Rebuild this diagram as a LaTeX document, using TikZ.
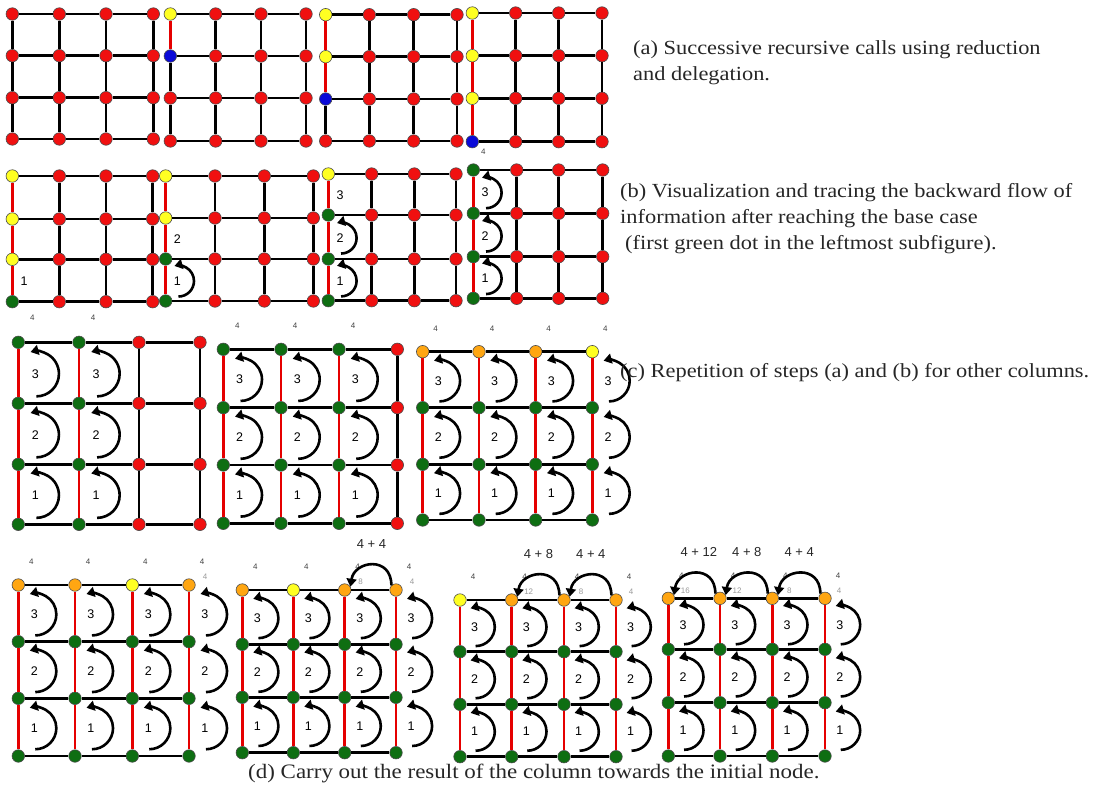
\documentclass[tikz,border=0pt]{standalone}
\usepackage{fontspec}
\setmainfont{Liberation Serif}[FakeStretch=1.12]
\setsansfont{Liberation Sans}
\usepackage{tikz}
\usetikzlibrary{arrows.meta,calc}

\definecolor{rd}{HTML}{F01010}
\definecolor{yl}{HTML}{FFFF22}
\definecolor{bl}{HTML}{0A0AD8}
\definecolor{gn}{HTML}{0E6E12}
\definecolor{og}{HTML}{FFA612}

\tikzset{
  knot/.style={circle,draw=black!70,line width=0.6pt,inner sep=0pt,minimum size=12.5pt},
  wire/.style={line width=2.8pt,black},
  hot/.style={line width=2.6pt,red!90!black},
  ret/.style={line width=2.6pt,-{Triangle[length=8pt,width=10pt]}},
  digit/.style={font=\fontsize{12.5}{13}\sffamily,inner sep=0pt},
  weight/.style={font=\fontsize{8}{9}\sffamily,text=black!75,inner sep=0pt},
  acc/.style={font=\fontsize{8}{9}\sffamily,text=black!40,inner sep=0pt},
  total/.style={font=\fontsize{13}{14}\sffamily,text=black!85,anchor=west,inner sep=0pt},
  note/.style={font=\fontsize{20}{26}\selectfont,text=black!85,align=left,anchor=west,inner sep=0pt},
}

% name, column x's, row y's, colours (column by column, top down), red segments per column
\newcommand\grid[5]{%
  \foreach \fc [count=\k from 0] in {#4} {
    \pgfmathtruncatemacro\cx{div(\k,4)}
    \pgfmathtruncatemacro\ry{mod(\k,4)}
    \pgfmathsetmacro\px{{#2}[\cx]}
    \pgfmathsetmacro\py{{#3}[\ry]}
    \node[knot,fill=\fc] (#1-\cx-\ry) at (\px,\py) {};
  }
  \foreach \ry in {0,...,3} {
    \foreach \cx [evaluate=\cx as \nx using int(\cx+1)] in {0,1,2} {
      \draw[wire] (#1-\cx-\ry) -- (#1-\nx-\ry);
    }
  }
  \foreach \nr [count=\cx from 0] in {#5} {
    \foreach \ry [evaluate=\ry as \ny using int(\ry+1)] in {0,1,2} {
      \ifnum\ry<\nr\relax \draw[hot] (#1-\cx-\ry) -- (#1-\cx-\ny);
      \else \draw[wire] (#1-\cx-\ry) -- (#1-\cx-\ny); \fi
    }
  }
}
% grid, column, upper row, label, cell height
\newcommand\tally[5]{%
  \pgfmathtruncatemacro\lo{#3+1}
  \node[digit] (#1-k-#2-#3) at ($(#1-#2-#3)!0.5!(#1-#2-\lo)+(0.28*#5,1)$) {#4};
}
\newcommand\back[5]{%
  \tally{#1}{#2}{#3}{#4}{#5}
  \draw[ret] ([shift={(1,0.37*#5)}]#1-k-#2-#3.center) arc[start angle=90,end angle=-105,radius=0.37*#5];
}
% grid, from column, to column, text
\newcommand\carry[4]{%
  \draw[ret] (#1-#2-0.north west) .. controls +(0,-30) and +(4,-26) .. (#1-#3-0.30);
  \node[total] (#1-s-#3) at ([shift={(12,-46)}]#1-#3-0) {#4};
}

\begin{document}
\begin{tikzpicture}[x=1pt,y=-1pt]
\useasboundingbox (0,0) rectangle (1099,787);

% (a) reduction and delegation
\grid{A1}{12.3,59.3,106,153.3}{14,55.7,97.7,139}{rd,rd,rd,rd,rd,rd,rd,rd,rd,rd,rd,rd,rd,rd,rd,rd}{0,0,0,0}
\grid{A2}{170.3,215.7,261,306}{14,56,98,141}{yl,bl,rd,rd,rd,rd,rd,rd,rd,rd,rd,rd,rd,rd,rd,rd}{1,0,0,0}
\grid{A3}{325.7,369.3,413.7,457}{14.7,56.7,99,141}{yl,yl,bl,rd,rd,rd,rd,rd,rd,rd,rd,rd,rd,rd,rd,rd}{2,0,0,0}
\grid{A4}{472.3,515.7,558.7,602}{13,55.7,98.3,141.7}{yl,yl,yl,bl,rd,rd,rd,rd,rd,rd,rd,rd,rd,rd,rd,rd}{3,0,0,0}
\node[weight] (A4-t-0) at ([shift={(11,10)}]A4-0-3) {4};
\node[note] (capa) at (633,62.5) {(a) Successive recursive calls using reduction\\and delegation.};

% (b) backward flow
\grid{B1}{12.3,59.3,106,152.7}{176,219,259.3,301.7}{yl,yl,yl,gn,rd,rd,rd,rd,rd,rd,rd,rd,rd,rd,rd,rd}{3,0,0,0}
\grid{B2}{165.7,215,264.3,313.3}{176,218,259,301}{yl,yl,gn,gn,rd,rd,rd,rd,rd,rd,rd,rd,rd,rd,rd,rd}{3,0,0,0}
\grid{B3}{328.3,371.7,414.3,456}{174,215,259,300.7}{yl,gn,gn,gn,rd,rd,rd,rd,rd,rd,rd,rd,rd,rd,rd,rd}{3,0,0,0}
\grid{B4}{473.3,516.7,558.7,602.7}{170,213.3,256.7,298.3}{gn,gn,gn,gn,rd,rd,rd,rd,rd,rd,rd,rd,rd,rd,rd,rd}{3,0,0,0}
\tally{B1}{0}{2}{1}{42}
\tally{B2}{0}{1}{2}{42}
\back{B2}{0}{2}{1}{42}
\tally{B3}{0}{0}{3}{42}
\back{B3}{0}{1}{2}{42}
\back{B3}{0}{2}{1}{42}
\foreach \rr/\ll in {0/3,1/2,2/1} {\back{B4}{0}{\rr}{\ll}{42}}
\node[note] (capb) at (620,219) {(b) Visualization and tracing the backward flow of\\information after reaching the base case\\\hspace*{5pt}(first green dot in the leftmost subfigure).};

% (c) other columns
\grid{C1}{18.3,79,139,200}{342.3,403.3,464.3,524.3}{gn,gn,gn,gn,gn,gn,gn,gn,rd,rd,rd,rd,rd,rd,rd,rd}{3,3,0,0}
\grid{C2}{223.3,281,339,397.3}{349.3,407.7,465,523.3}{gn,gn,gn,gn,gn,gn,gn,gn,gn,gn,gn,gn,rd,rd,rd,rd}{3,3,3,0}
\grid{C3}{422.7,479,535.7,592.3}{351.7,407.7,464.3,520}{og,gn,gn,gn,og,gn,gn,gn,og,gn,gn,gn,yl,gn,gn,gn}{3,3,3,3}
\foreach \cc in {0,1} {
  \node[weight] (C1-t-\cc) at ([shift={(14,-25)}]C1-\cc-0) {4};
  \foreach \rr/\ll in {0/3,1/2,2/1} {\back{C1}{\cc}{\rr}{\ll}{61}}
}
\foreach \cc in {0,1,2} {
  \node[weight] (C2-t-\cc) at ([shift={(14,-24)}]C2-\cc-0) {4};
  \foreach \rr/\ll in {0/3,1/2,2/1} {\back{C2}{\cc}{\rr}{\ll}{58}}
}
\foreach \cc in {0,...,3} {
  \node[weight] (C3-t-\cc) at ([shift={(13,-23)}]C3-\cc-0) {4};
  \foreach \rr/\ll in {0/3,1/2,2/1} {\back{C3}{\cc}{\rr}{\ll}{56}}
}
\node[note] (capc) at (620,373) {(c) Repetition of steps (a) and (b) for other columns.};

% (d) carry the column results to the initial node
\grid{D1}{18.3,75,132.3,189}{585,641.7,698.3,756}{og,gn,gn,gn,og,gn,gn,gn,yl,gn,gn,gn,og,gn,gn,gn}{3,3,3,3}
\grid{D2}{242.3,293.3,344.7,396}{590,644.3,697.3,752.7}{og,gn,gn,gn,yl,gn,gn,gn,og,gn,gn,gn,og,gn,gn,gn}{3,3,3,3}
\grid{D3}{460,511.7,564,616}{600,651.7,704.3,756.7}{yl,gn,gn,gn,og,gn,gn,gn,og,gn,gn,gn,og,gn,gn,gn}{3,3,3,3}
\grid{D4}{668.3,720,772.3,825}{598.3,649.3,702.7,756}{og,gn,gn,gn,og,gn,gn,gn,og,gn,gn,gn,og,gn,gn,gn}{3,3,3,3}
\foreach \g/\h in {D1/57,D2/54,D3/52,D4/52.6} {
  \foreach \cc in {0,...,3} {
    \node[weight] (\g-t-\cc) at ([shift={(13,-23)}]\g-\cc-0) {4};
    \foreach \rr/\ll in {0/3,1/2,2/1} {\back{\g}{\cc}{\rr}{\ll}{\h}}
  }
}
\node[acc] (D1-v-3) at ([shift={(16,-8)}]D1-3-0) {4};
\node[acc] (D2-v-2) at ([shift={(16,-8)}]D2-2-0) {8};
\node[acc] (D2-v-3) at ([shift={(16,-8)}]D2-3-0) {4};
\node[acc] (D3-v-1) at ([shift={(17,-8)}]D3-1-0) {12};
\node[acc] (D3-v-2) at ([shift={(17,-8)}]D3-2-0) {8};
\node[acc] (D3-v-3) at ([shift={(15,-8)}]D3-3-0) {4};
\node[acc] (D4-v-0) at ([shift={(17,-8)}]D4-0-0) {16};
\node[acc] (D4-v-1) at ([shift={(17,-8)}]D4-1-0) {12};
\node[acc] (D4-v-2) at ([shift={(17,-8)}]D4-2-0) {8};
\node[acc] (D4-v-3) at ([shift={(14,-8)}]D4-3-0) {4};
\carry{D2}{3}{2}{4 + 4}
\carry{D3}{3}{2}{4 + 4}
\carry{D3}{2}{1}{4 + 8}
\carry{D4}{3}{2}{4 + 4}
\carry{D4}{2}{1}{4 + 8}
\carry{D4}{1}{0}{4 + 12}
\node[note,font=\fontsize{20.5}{26}\selectfont] (capd) at (248,773) {(d) Carry out the result of the column towards the initial node.};
\end{tikzpicture}
\end{document}
